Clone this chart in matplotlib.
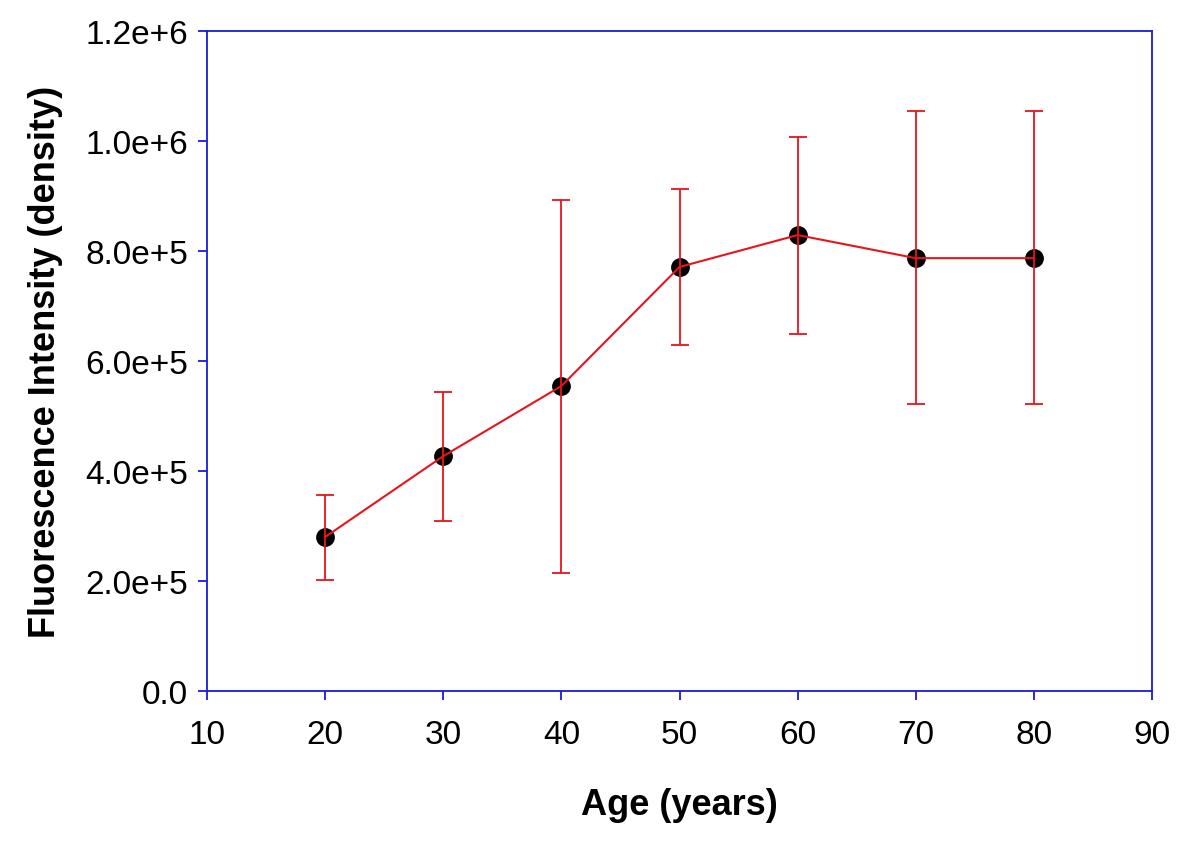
import matplotlib
matplotlib.use("Agg")
import matplotlib.pyplot as plt
import numpy as np

ages = [20, 30, 40, 50, 60, 70, 80]
intensity = [2.80e5, 4.27e5, 5.545e5, 7.71e5, 8.29e5, 7.87e5, 7.87e5]
err_upper = [3.57e5, 5.43e5, 8.93e5, 9.13e5, 1.007e6, 1.0545e6, 1.0545e6]
err_lower = [2.02e5, 3.10e5, 2.145e5, 6.29e5, 6.49e5, 5.22e5, 5.22e5]
xticks = [10, 20, 30, 40, 50, 60, 70, 80, 90]
yticks = [0, 2e5, 4e5, 6e5, 8e5, 1e6, 1.2e6]
ytick_labels = ["0.0", "2.0e+5", "4.0e+5", "6.0e+5", "8.0e+5", "1.0e+6", "1.2e+6"]

plt.rcParams['font.family'] = ['Liberation Sans', 'DejaVu Sans']

fig = plt.figure(figsize=(12, 8.54), dpi=100)
ax = fig.add_axes([0.1725, 0.1897, 0.7875, 0.7728])

y = np.array(intensity)
yerr = np.vstack([y - np.array(err_lower), np.array(err_upper) - y])

ax.plot(ages, intensity, 'o', color='black', markersize=12.5, zorder=2)
ax.errorbar(ages, intensity, yerr=yerr, fmt='none', ecolor='#e8141c',
            elinewidth=1.3, capsize=6.5, capthick=1.3, zorder=3)
ax.plot(ages, intensity, '-', color='#e8141c', linewidth=1.5, zorder=3)

ax.set_xlim(10, 90)
ax.set_ylim(0, 1.2e6)
ax.set_xticks(xticks)
ax.set_xticklabels([str(t) for t in xticks])
ax.set_yticks(yticks)
ax.set_yticklabels(ytick_labels)

for s in ax.spines.values():
    s.set_color('#1a1adc')
    s.set_linewidth(1.3)
ax.tick_params(axis='both', colors='#1a1adc', labelcolor='black', direction='out',
               length=6.5, width=1.3, labelsize=24)
ax.tick_params(axis='x', pad=14)
ax.tick_params(axis='y', pad=7)

ax.set_xlabel("Age (years)", fontsize=26, fontweight='bold', labelpad=26)
ax.set_ylabel("Fluorescence Intensity (density)", fontsize=26, fontweight='bold', labelpad=16)

fig.savefig("out.png", dpi=100)
